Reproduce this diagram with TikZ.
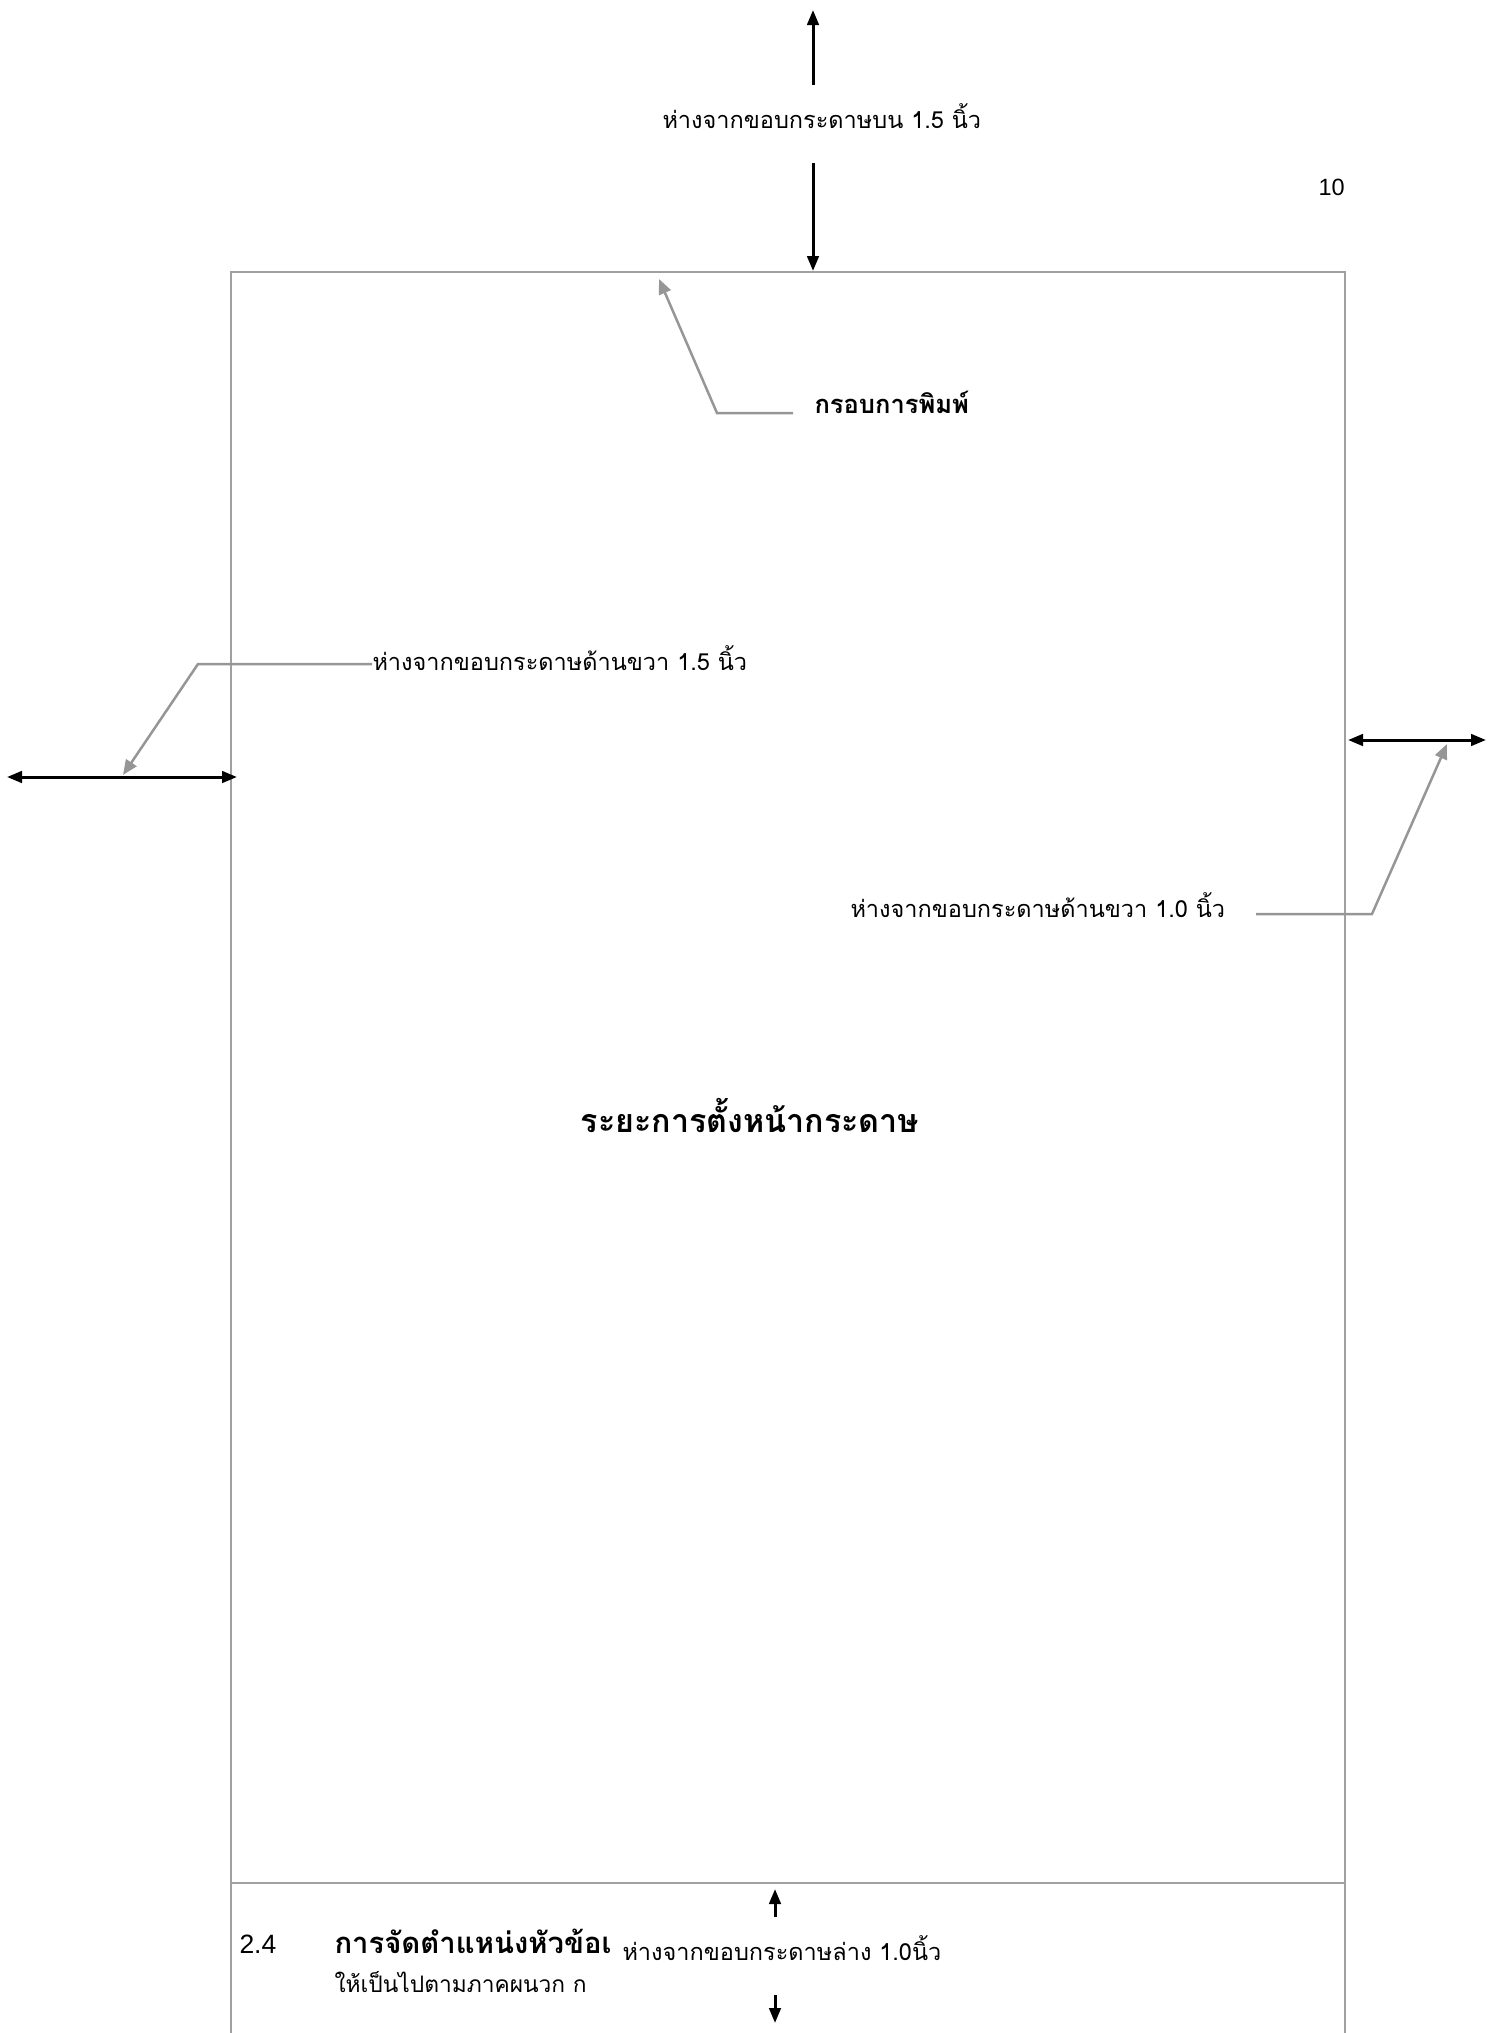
\documentclass[tikz,border=0pt]{standalone}
\usepackage{fontspec}
\usetikzlibrary{arrows.meta}
\newfontfamily\thaifont[Script=Thai]{Loma}
\newfontfamily\arialfont{Liberation Sans}
\definecolor{framegray}{RGB}{160,160,160}
\definecolor{callgray}{RGB}{150,150,150}
\begin{document}
\begin{tikzpicture}[x=0.4pt,y=-0.4pt,
  framel/.style={draw=framegray, line width=0.8pt},
  dimarrow/.style={draw=black, line width=1.2pt, -{Triangle[length=6pt,width=4.6pt]}},
  dimboth/.style={draw=black, line width=1.2pt, {Triangle[length=6pt,width=4.6pt]}-{Triangle[length=6pt,width=4.6pt]}},
  callout/.style={draw=callgray, line width=1pt, -{Triangle[length=6pt,width=5pt]}},
  lbl/.style={inner sep=0pt, anchor=base west, font=\thaifont\fontsize{9.4}{11}\selectfont},
  lblb/.style={inner sep=0pt, anchor=base west, font=\thaifont\bfseries\fontsize{10.2}{12}\selectfont},
  headl/.style={inner sep=0pt, anchor=base west, font=\thaifont\bfseries\fontsize{11.7}{13}\selectfont},
  bodyl/.style={inner sep=0pt, anchor=base west, font=\thaifont\fontsize{9.1}{11}\selectfont},
  numl/.style={inner sep=0pt, anchor=base west, font=\arialfont\fontsize{9.4}{11}\selectfont},
  secl/.style={inner sep=0pt, anchor=base west, font=\arialfont\fontsize{10.6}{12}\selectfont},
  titl/.style={inner sep=0pt, anchor=base, font=\thaifont\bfseries\fontsize{12.9}{15}\selectfont}
]
\useasboundingbox (0,0) rectangle (1501,2033);
% print frame
\draw[framel] (231,2033) -- (231,272) -- (1345,272) -- (1345,2033);
\draw[framel] (231,1883) -- (1345,1883);

% labels
\node[lbl] (top) at (662,128) {ห่างจากขอบกระดาษบน 1.5 นิ้ว};
\node[lblb] (frm) at (814,413) {กรอบการพิมพ์};
\node[lbl] (left) at (372,670) {ห่างจากขอบกระดาษด้านขวา 1.5 นิ้ว};
\node[lbl] (right) at (850,917) {ห่างจากขอบกระดาษด้านขวา 1.0 นิ้ว};
\node[titl] (title) at (750,1132) {ระยะการตั้งหน้ากระดาษ};
\node[numl] (page) at (1318,195) {10};
\node[secl] (sec) at (239,1953) {2.4};
\node[headl] (head) at (334,1953) {การจัดตำแหน่งหัวข้อเ};
\node[lbl] (bot) at (622,1960) {ห่างจากขอบกระดาษล่าง 1.0นิ้ว};
\node[bodyl] (line2) at (334,1992) {ให้เป็นไปตามภาคผนวก ก};

% coordinates
\coordinate (tu1) at (813,85);  \coordinate (tu2) at (813,10);
\coordinate (td1) at (813,163); \coordinate (td2) at (813,271);
\coordinate (la) at (7,777);    \coordinate (lb) at (237,777);
\coordinate (ra) at (1348,740); \coordinate (rb) at (1486,740);
\coordinate (bu1) at (775,1917); \coordinate (bu2) at (775,1889);
\coordinate (bd1) at (775,1995); \coordinate (bd2) at (775,2023);
\coordinate (fc0) at (793,413); \coordinate (fc1) at (717,413); \coordinate (fc2) at (659,279);
\coordinate (lc0) at (372,664); \coordinate (lc1) at (198,664); \coordinate (lc2) at (123,775);
\coordinate (rc0) at (1256,914); \coordinate (rc1) at (1372,914); \coordinate (rc2) at (1447,744);

% dimension arrows
\draw[dimarrow] (tu1) -- (tu2);
\draw[dimarrow] (td1) -- (td2);
\draw[dimboth] (la) -- (lb);
\draw[dimboth] (ra) -- (rb);
\draw[dimarrow] (bu1) -- (bu2);
\draw[dimarrow] (bd1) -- (bd2);

% callouts
\draw[callout] (fc0) -- (fc1) -- (fc2);
\draw[callout] (lc0) -- (lc1) -- (lc2);
\draw[callout] (rc0) -- (rc1) -- (rc2);
\end{tikzpicture}
\end{document}
